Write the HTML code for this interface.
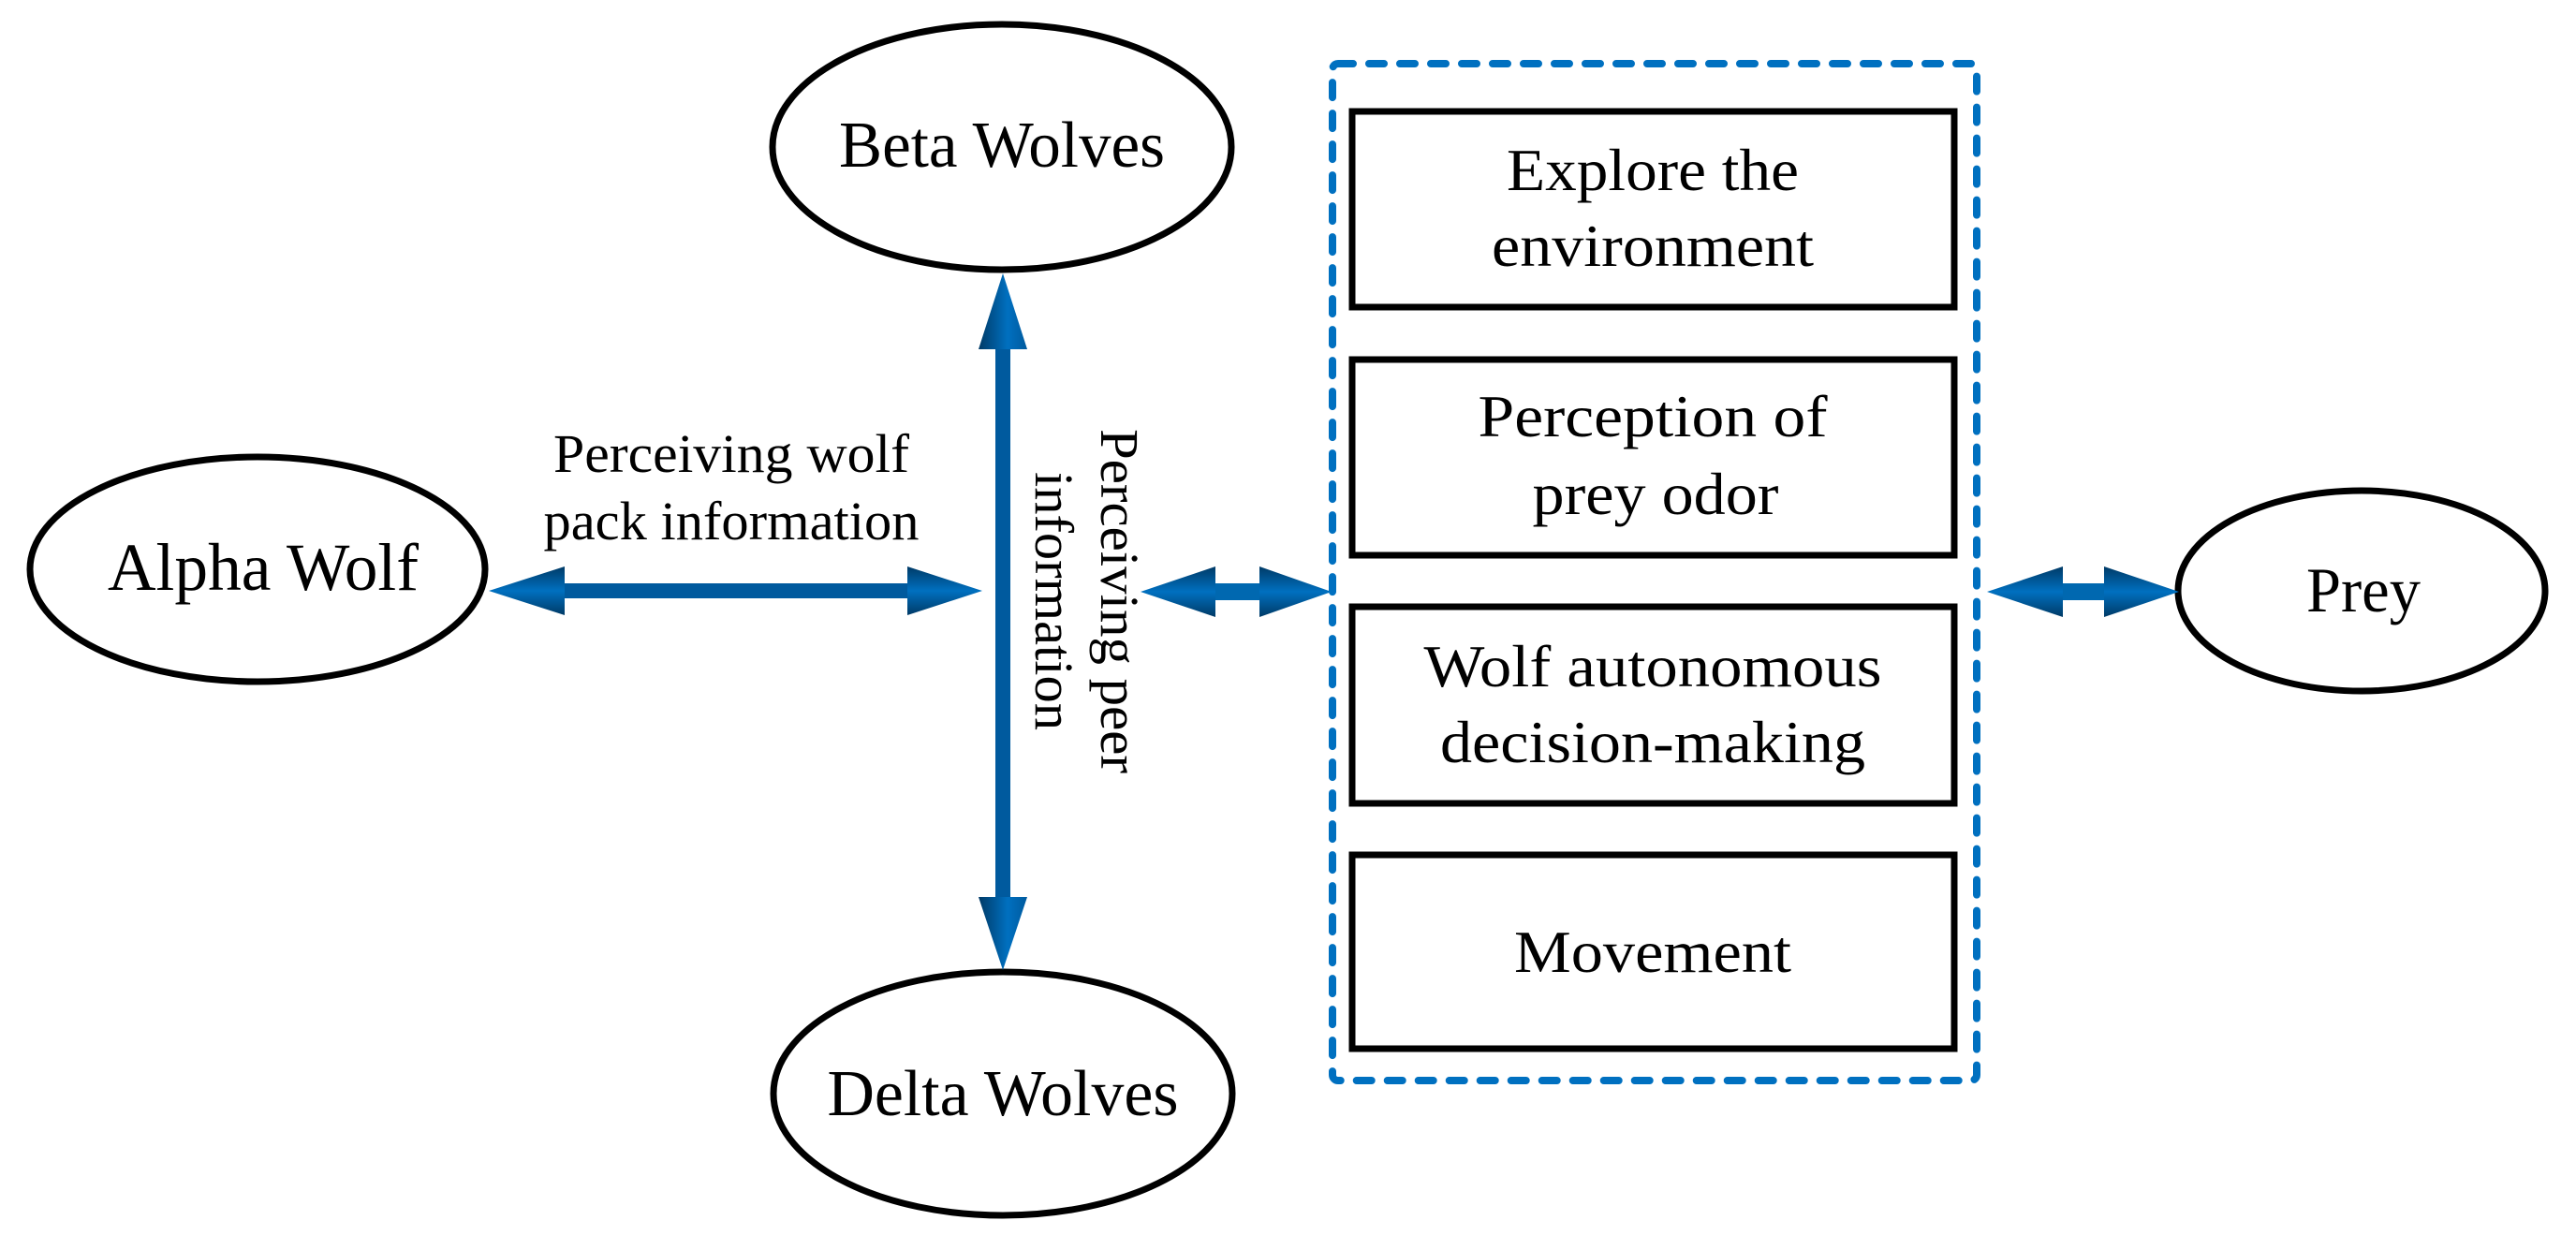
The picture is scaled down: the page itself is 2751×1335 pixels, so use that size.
<!DOCTYPE html>
<html><head><meta charset="utf-8"><style>
html,body{margin:0;padding:0;background:#fff;}
svg{display:block;}
text{font-family:"Liberation Serif",serif;fill:#000;}
</style></head><body>
<svg width="2751" height="1335" viewBox="0 0 2751 1335" xmlns="http://www.w3.org/2000/svg">
<defs>
<linearGradient id="gv" x1="0" y1="0" x2="0" y2="1">
<stop offset="0" stop-color="#003a66"/><stop offset="0.5" stop-color="#0070c0"/><stop offset="1" stop-color="#003a66"/>
</linearGradient>
<linearGradient id="gh" x1="0" y1="0" x2="1" y2="0">
<stop offset="0" stop-color="#003a66"/><stop offset="0.6" stop-color="#0070c0"/><stop offset="1" stop-color="#005a9e"/>
</linearGradient>
</defs>
<g fill="#fff" stroke="#000" stroke-width="7">
<ellipse cx="275" cy="608" rx="243" ry="120"/>
<ellipse cx="1070" cy="157" rx="245" ry="131"/>
<ellipse cx="1071" cy="1168" rx="245" ry="130"/>
<ellipse cx="2522" cy="631" rx="196" ry="107"/>
</g>
<text x="281" y="630" font-size="72" text-anchor="middle" textLength="332" lengthAdjust="spacingAndGlyphs">Alpha Wolf</text>
<text x="1070" y="178" font-size="70" text-anchor="middle" textLength="348" lengthAdjust="spacingAndGlyphs">Beta Wolves</text>
<text x="1071" y="1191" font-size="70" text-anchor="middle" textLength="375" lengthAdjust="spacingAndGlyphs">Delta Wolves</text>
<text x="2524" y="653" font-size="68" text-anchor="middle" textLength="122" lengthAdjust="spacingAndGlyphs">Prey</text>

<!-- horizontal arrow -->
<rect x="600" y="623" width="372" height="16" fill="#005a9e"/>
<polygon points="522,631 603,605 603,657" fill="url(#gv)"/>
<polygon points="1049,631 969,605 969,657" fill="url(#gv)"/>
<!-- vertical arrow -->
<rect x="1063" y="370" width="16" height="592" fill="#005a9e"/>
<polygon points="1071,292 1045,373 1097,373" fill="url(#gh)"/>
<polygon points="1071,1036 1045,958 1097,958" fill="url(#gh)"/>
<!-- small arrows -->
<rect x="1295" y="623" width="53" height="18" fill="#0068b0"/>
<polygon points="1218,632 1298,605 1298,659" fill="url(#gv)"/>
<polygon points="1422,632 1345,605 1345,659" fill="url(#gv)"/>
<rect x="2200" y="623" width="50" height="18" fill="#0068b0"/>
<polygon points="2122,632 2203,605 2203,659" fill="url(#gv)"/>
<polygon points="2327,632 2247,605 2247,659" fill="url(#gv)"/>

<text x="781" y="504" font-size="58" text-anchor="middle" textLength="380" lengthAdjust="spacingAndGlyphs">Perceiving wolf</text>
<text x="781" y="576" font-size="58" text-anchor="middle" textLength="401" lengthAdjust="spacingAndGlyphs">pack information</text>
<text transform="translate(1176,642) rotate(90)" x="0" y="0" font-size="58" text-anchor="middle" textLength="368" lengthAdjust="spacingAndGlyphs">Perceiving peer</text>
<text transform="translate(1106,642) rotate(90)" x="0" y="0" font-size="58" text-anchor="middle" textLength="276" lengthAdjust="spacingAndGlyphs">information</text>

<!-- dashed container -->
<rect x="1423" y="68" width="688" height="1086" rx="6" fill="none" stroke="#0070c0" stroke-width="8" stroke-dasharray="16 17" stroke-linecap="round"/>
<g fill="#fff" stroke="#000" stroke-width="7">
<rect x="1444" y="119" width="643" height="209"/>
<rect x="1444" y="384" width="643" height="209"/>
<rect x="1444" y="648" width="643" height="210"/>
<rect x="1444" y="913" width="643" height="207"/>
</g>
<g font-size="64" text-anchor="middle">
<text x="1765" y="203" textLength="312" lengthAdjust="spacingAndGlyphs">Explore the</text>
<text x="1765" y="284" textLength="344" lengthAdjust="spacingAndGlyphs">environment</text>
<text x="1765" y="466" textLength="373" lengthAdjust="spacingAndGlyphs">Perception of</text>
<text x="1768" y="549" textLength="263" lengthAdjust="spacingAndGlyphs">prey odor</text>
<text x="1765" y="733" textLength="489" lengthAdjust="spacingAndGlyphs">Wolf autonomous</text>
<text x="1765" y="814" textLength="454" lengthAdjust="spacingAndGlyphs">decision-making</text>
<text x="1765" y="1038" textLength="296" lengthAdjust="spacingAndGlyphs">Movement</text>
</g>
</svg>
</body></html>
